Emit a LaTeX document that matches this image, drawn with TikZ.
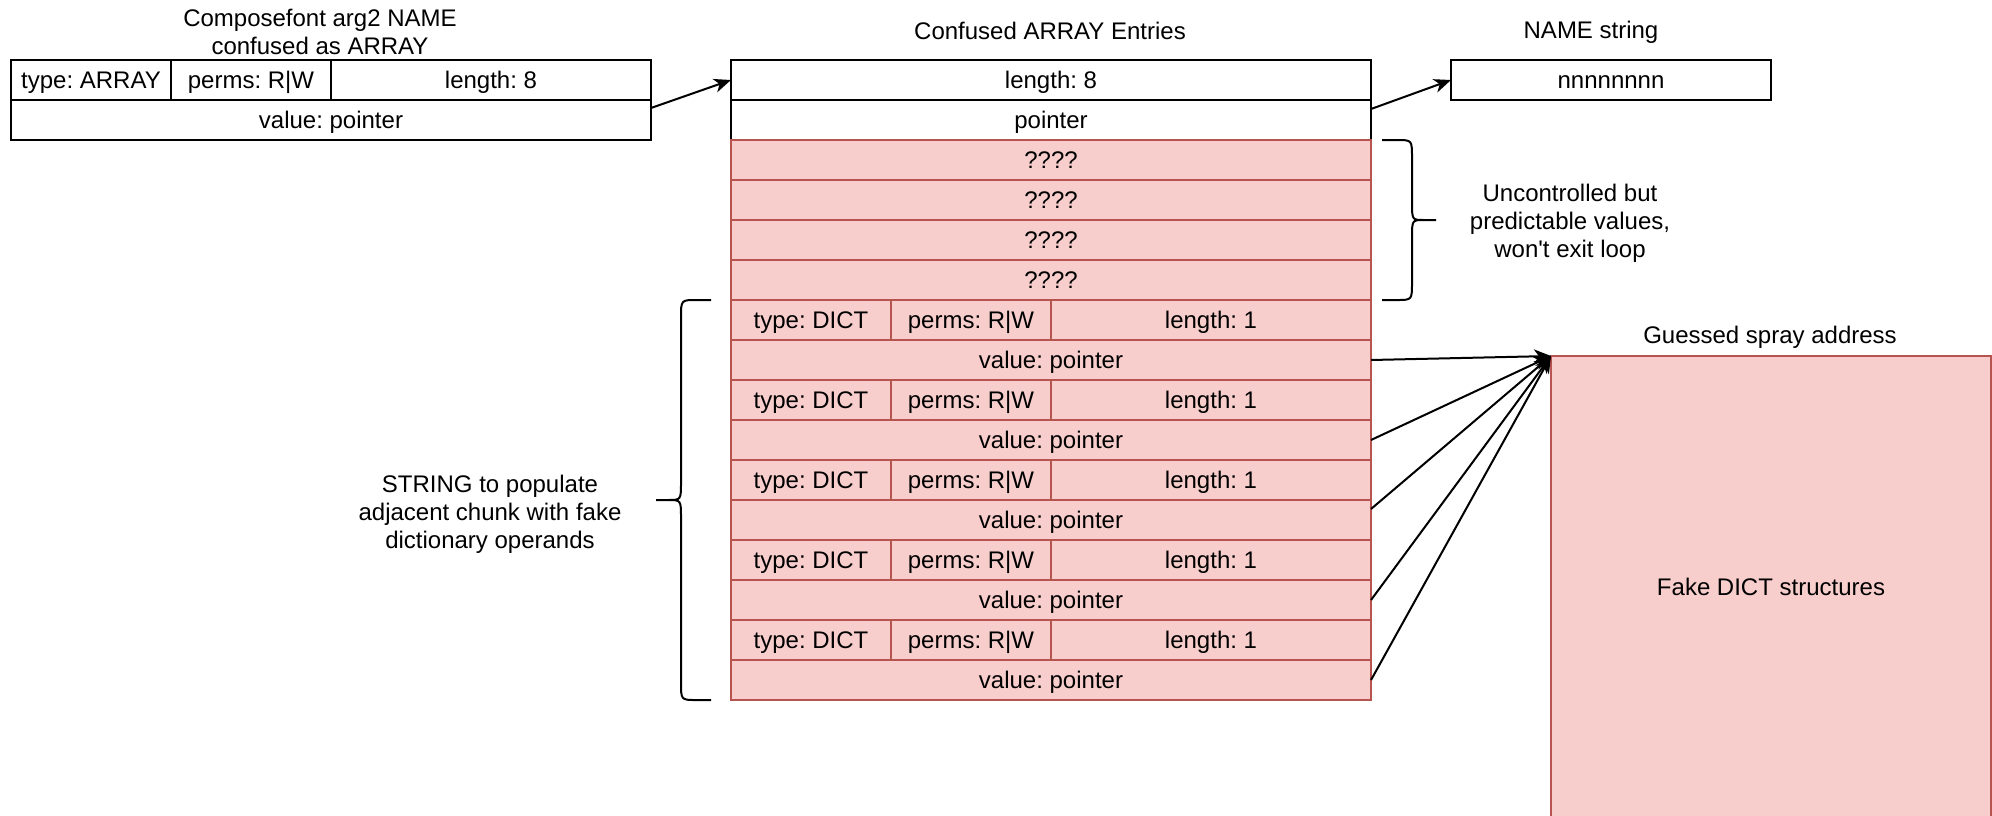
\documentclass[tikz,border=0pt]{standalone}
\usepackage{fontspec}
\setmainfont{Liberation Sans}
\usetikzlibrary{arrows.meta}

\definecolor{chunkfill}{HTML}{F8CECC}
\definecolor{chunkline}{HTML}{B85450}

\tikzset{
  cellw/.style={draw=black, fill=white, line width=2.2pt, inner sep=0pt, outer sep=0pt,
                minimum height=40pt, text height=21pt, text depth=4pt, anchor=north west},
  cellr/.style={draw=chunkline, fill=chunkfill, line width=2pt, inner sep=0pt, outer sep=0pt,
                minimum height=40pt, text height=21pt, text depth=4pt, anchor=north west},
  lbl/.style={align=center, inner sep=0pt},
  ptrarrow/.style={line width=2pt, -{Stealth[length=17pt, width=14pt, inset=5pt]}},
  bracepath/.style={line width=2pt, black},
}

\begin{document}
\frenchspacing
\begin{tikzpicture}[x=1pt, y=-1pt, font=\fontsize{24}{28}\selectfont\frenchspacing]
\useasboundingbox (0,0) rectangle (1992,815);

% NAME object seen as an ARRAY
\node[cellw, minimum width=160pt] (ltype) at (11,60) {type: ARRAY};
\node[cellw, minimum width=160pt] (lperm) at (171,60) {perms: R|W};
\node[cellw, minimum width=320pt] (llen)  at (331,60) {length: 8};
\node[cellw, minimum width=640pt] (lval)  at (11,100) {value: pointer};
\node[lbl] (ttl1) at (320,32) {Composefont arg2 NAME\\confused as ARRAY};

% array entries
\node[cellw, minimum width=640pt] (mlen) at (731,60) {length: 8};
\node[cellw, minimum width=640pt] (mptr) at (731,100) {pointer};
\node[cellr, minimum width=640pt] (q1) at (731,140) {????};
\node[cellr, minimum width=640pt] (q2) at (731,180) {????};
\node[cellr, minimum width=640pt] (q3) at (731,220) {????};
\node[cellr, minimum width=640pt] (q4) at (731,260) {????};
\foreach \i in {1,...,5}{
  \pgfmathsetmacro{\ytop}{300+(\i-1)*80}
  \pgfmathsetmacro{\ybot}{340+(\i-1)*80}
  \node[cellr, minimum width=160pt] (dt\i) at (731,\ytop) {type: DICT};
  \node[cellr, minimum width=160pt] (dp\i) at (891,\ytop) {perms: R|W};
  \node[cellr, minimum width=320pt] (dl\i) at (1051,\ytop) {length: 1};
  \node[cellr, minimum width=640pt] (dv\i) at (731,\ybot) {value: pointer};
}
\node[lbl] (ttl2) at (1050,31) {Confused ARRAY Entries};

% NAME string
\node[cellw, minimum width=320pt] (nm) at (1451,60) {nnnnnnnn};
\node[lbl] (ttl3) at (1591,32) {NAME string};

% sprayed memory
\node[cellr, minimum width=440pt, minimum height=462pt, text height=, text depth=] (fake) at (1551,356) {Fake DICT structures};
\node[lbl] (ttl4) at (1770,337) {Guessed spray address};

% braces
\draw[bracepath] (1382,140) -- (1397,140) .. controls (1412,140) .. (1412,158)
  -- (1412,202) .. controls (1412,220) .. (1424,220) -- (1436,220)
  (1436,220) -- (1424,220) .. controls (1412,220) .. (1412,238)
  -- (1412,282) .. controls (1412,300) .. (1397,300) -- (1382,300);
\node[lbl] (unc) at (1570,223) {Uncontrolled but\\predictable values,\\won\textquotesingle t exit loop};

\draw[bracepath] (711,300) -- (696,300) .. controls (681,300) .. (681,318)
  -- (681,482) .. controls (681,500) .. (668,500) -- (656,500)
  (656,500) -- (668,500) .. controls (681,500) .. (681,518)
  -- (681,682) .. controls (681,700) .. (696,700) -- (711,700);
\node[lbl] (strg) at (490,514) {STRING to populate\\adjacent chunk with fake\\dictionary operands};

% pointers
\draw[ptrarrow] ([yshift=12pt]lval.east) -- (mlen.west);
\draw[ptrarrow] ([yshift=11pt]mptr.east) -- (nm.west);
\draw[ptrarrow] (dv1.east) -- (fake.north west);
\draw[ptrarrow] (dv2.east) -- (fake.north west);
\draw[ptrarrow] ([yshift=11pt]dv3.east) -- (fake.north west);
\draw[ptrarrow] (dv4.east) -- (fake.north west);
\draw[ptrarrow] (dv5.east) -- (fake.north west);
\end{tikzpicture}
\end{document}
